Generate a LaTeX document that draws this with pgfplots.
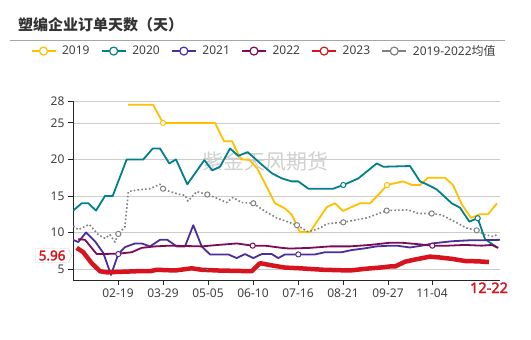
\documentclass[border=0pt]{standalone}
\usepackage{pgfplots}
\pgfplotsset{compat=1.18}
\usetikzlibrary{shapes.symbols}
\usepackage{fontspec}
\setmainfont{Noto Sans}
\newfontfamily\cjk{Noto Sans CJK SC}
\newfontfamily\notob{Noto Sans}[AutoFakeBold=2.2]
\definecolor{c19}{HTML}{FFC000}
\definecolor{c20}{HTML}{00818A}
\definecolor{c21}{HTML}{4A2F9C}
\definecolor{c22}{HTML}{7E0B55}
\definecolor{c23}{HTML}{D7141E}
\definecolor{cmean}{HTML}{808080}
\definecolor{txt}{HTML}{404040}
\begin{document}
\begin{tikzpicture}
\path[use as bounding box, fill=white] (0,0) rectangle (531pt,340pt);
\node[anchor=west, font=\cjk\bfseries\fontsize{15}{15}\selectfont, text=black!80, inner sep=0pt] at (18pt,315pt) {塑编企业订单天数（天）};
\draw[color=black!35, line width=0.8pt] (10pt,300pt) -- (505pt,300pt);
\begin{axis}[
  at={(73pt,60pt)}, anchor=south west, scale only axis,
  width=427pt, height=179pt,
  xmin=73, xmax=500, ymin=3.5, ymax=28,
  axis lines=left, axis line style={-, color=black!85, line width=0.9pt},
  xtick={118,163,208,253,298,343,388,432},
  xticklabels={02-19,03-29,05-05,06-10,07-16,08-21,09-27,11-04},
  ytick={5,10,15,20,25,28},
  ymajorgrids, grid style={color=black!20, line width=0.8pt},
  tick align=outside, major tick length=5pt,
  tick style={color=black!85, line width=0.9pt},
  tick label style={font=\fontsize{12}{12}\selectfont, text=txt},
  /pgf/number format/assume math mode=true,
  extra x ticks={489}, extra x tick labels={12-22},
  extra x tick style={major tick length=0pt, xticklabel style={text=c23, font=\notob\bfseries\fontsize{14.5}{14.5}\selectfont, yshift=1pt}},
  extra y ticks={6.85}, extra y tick labels={5.96},
  extra y tick style={major tick length=0pt, grid=none, yticklabel style={shape=signal, signal to=east, signal pointer angle=130, draw=black!18, fill=white, text=c23, font=\notob\bfseries\fontsize{13.5}{13.5}\selectfont, inner xsep=3pt, inner ysep=2pt, xshift=-1pt}},
  legend columns=6,
  legend style={at={(-0.099,1.279)}, anchor=west, draw=none, fill=none, inner sep=0pt,
     font=\fontsize{12}{12}\selectfont, text=txt, nodes={inner xsep=0pt, inner ysep=1pt},
     /tikz/every odd column/.append style={column sep=6pt},
     /tikz/every even column/.append style={column sep=11.5pt}},
  legend image code/.code={\draw[#1, solid, line width=1.2pt] (0pt,0pt) -- (24pt,0pt); \draw[#1, solid, line width=1.2pt, fill=white] (12pt,0pt) circle (4pt);},
  line join=round,
]
\node[font=\cjk\fontsize{21}{21}\selectfont, text=black!18] at (axis cs:265,19.7) {紫金天风期货};
% 2019
\addplot[c19, line width=1.8pt] coordinates {
(128,27.5) (153,27.5) (163,25) (215,25) (224,22.5) (232,22.5) (241,20) (249,20) (257,18.8) (265,16.7) (275,14) (285,13.3) (292,12.4) (300,10.05) (310,10.05) (317,11.5) (327,13.5) (335,14) (343,12.95) (360,14) (370,14) (378,15.1) (387,16.5) (403,17) (412,16.5) (420,16.5) (428,17.5) (445,17.5) (453,16.5) (462,13.8) (471,12) (480,12.5) (488,12.5) (497,14)};
\addlegendentry{2019}
% 2020
\addplot[c20, line width=1.8pt] coordinates {
(73.3,13) (81.7,14) (88.3,14) (96,13) (105,15) (112.7,15) (126.7,20) (143.3,20) (152.7,21.5) (160,21.5) (169.3,19.45) (176,20) (187.3,16.6) (204.3,19.9) (212.3,18.5) (220,19) (230,21.5) (238.3,20.5) (247.7,21) (261.7,19.3) (272,18.1) (282,17.4) (291.7,17) (298.3,17) (308.3,16) (333.3,16) (343.3,16.5) (358.3,17.4) (376.7,19.45) (383.3,19) (410,19.1) (420,17) (426.7,16.6) (436.7,15.9) (451.7,14) (460,13.4) (469.3,11.5) (477.7,11.95) (485,9.1) (497.7,7.9)};
\addlegendentry{2020}
% 2021
\addplot[c21, line width=1.8pt] coordinates {
(72.7,9) (78.3,8.7) (86,10) (95,8.8) (103.3,7.2) (111,4.2) (118.3,7.05) (125,8) (135,8.5) (141.7,8.5) (150,8.1) (160,9) (167.3,9) (176.7,8.1) (185,8.1) (193.3,11) (201.7,8.1) (210,7) (228.3,7) (236.7,6.5) (245,7.05) (253.3,6.5) (261.7,7.05) (271.7,7.05) (278.3,6.5) (285,7) (298.3,7) (315,7) (325,7.3) (341.7,7.3) (351.7,7.6) (363.3,7.8) (376.7,8.1) (390,8.2) (396.7,8.2) (410,7.95) (421.7,8.2) (435,8.55) (451.7,8.8) (471.7,8.95) (485,8.95) (500,9)};
\addlegendentry{2021}
% 2022
\addplot[c22, line width=1.8pt] coordinates {
(78.3,9.1) (85,9) (96.7,7.05) (118.3,7.1) (131.7,7.3) (141.7,7.9) (155,8.1) (170,8.2) (201.7,8.1) (218.3,8.3) (236.7,8.5) (252.7,8.2) (265,8.2) (281.7,7.9) (290,7.8) (310,7.9) (330,8.1) (350,8.1) (370,8.3) (390,8.6) (401.7,8.6) (418.3,8.4) (432.3,8.2) (448.3,8.2) (465,8.3) (481.7,8.2) (491.7,8.3) (498.3,7.9)};
\addlegendentry{2022}
% 2023
\addplot[c23, line width=4.5pt] coordinates {
(76.7,7.9) (83.3,7.3) (91.7,5.8) (100,4.7) (106.7,4.55) (136.7,4.7) (150,4.7) (156.7,4.9) (175,4.8) (191.7,5.1) (201.7,4.9) (218.3,4.8) (251.7,4.7) (260,5.8) (271.7,5.5) (285,5.2) (300,5.1) (323.3,4.9) (350,4.8) (366.7,5.05) (380,5.2) (390,5.35) (395,5.35) (405,6) (415,6.3) (430,6.7) (438.3,6.6) (451.7,6.4) (465,6.1) (478.3,6.05) (489,5.96)};
\addlegendentry{2023}
% mean
\addplot[cmean, line width=1.6pt, dash pattern=on 1.6pt off 2.2pt] coordinates {
(73.3,10.9) (78.3,10.4) (89.3,11.1) (98.3,9.7) (105,9.2) (110,9.7) (115,8.7) (118.3,9.8) (125,10.8) (128.3,15.6) (136.7,15.8) (150,16) (160,16.6) (163,16) (170,15.6) (180,15.2) (185,15.1) (188,14.3) (196.7,15.6) (207.3,15.2) (216.7,14.7) (226.7,14.1) (233,14.8) (241.7,14.1) (253.3,14) (265,12.9) (276.7,12) (287,11.5) (297,11) (308,10.1) (320,10.6) (327,11.2) (343.3,11.4) (366.7,12) (386.7,13) (408,13.1) (418.3,12.6) (431.7,12.6) (441.7,12.4) (451.7,11.7) (466.7,10.6) (476.7,10.3) (485,9.7) (493.3,9.45) (498.3,9.8)};
\addlegendentry{2019-2022{\cjk 均值}}
% markers
\addplot[forget plot, only marks, mark=*, mark size=2.6pt, mark options={fill=white, draw=c19, line width=1pt}] coordinates {(163,25) (387,16.5)};
\addplot[forget plot, only marks, mark=*, mark size=2.6pt, mark options={fill=white, draw=c20, line width=1pt}] coordinates {(343.3,16.5) (477.7,11.95)};
\addplot[forget plot, only marks, mark=*, mark size=2.6pt, mark options={fill=white, draw=c21, line width=1pt}] coordinates {(72.7,9) (118.3,7.05) (298.3,7)};
\addplot[forget plot, only marks, mark=*, mark size=2.6pt, mark options={fill=white, draw=c22, line width=1pt}] coordinates {(252.7,8.2) (432.3,8.2)};
\addplot[forget plot, only marks, mark=*, mark size=2.6pt, mark options={fill=white, draw=cmean, line width=1pt}] coordinates {(118.3,9.8) (163,16) (207.3,15.2) (253.3,14) (297,11) (343.3,11.4) (386.7,13) (431.7,12.6) (476.7,10.3)};
\addplot[forget plot, only marks, mark=*, mark size=1.3pt, mark options={fill=white, draw=none}] coordinates {(207,4.9)};
\end{axis}
\end{tikzpicture}
\end{document}
